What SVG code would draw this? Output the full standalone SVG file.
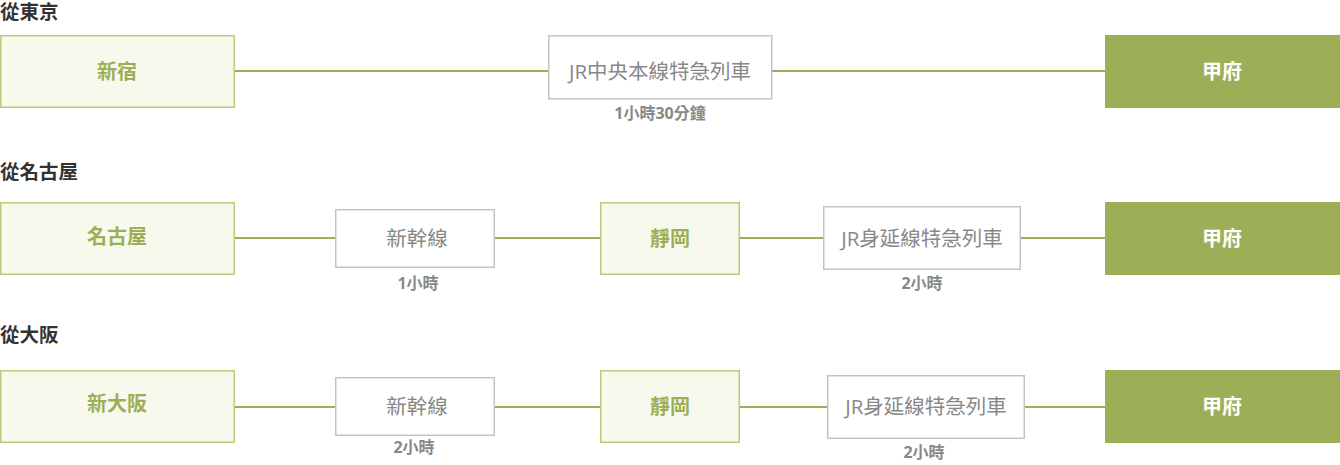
<svg xmlns="http://www.w3.org/2000/svg" width="1340" height="465" viewBox="0 0 1340 465">
<style>
.title{font-family:"Open Sans","Noto Sans CJK TC",sans-serif;font-weight:bold;font-size:19.5px;fill:#333}
.sta rect{fill:#f7f9ec;stroke:#b8cc7e;stroke-width:1.5}
.sta text{font-family:"Open Sans","Noto Sans CJK TC",sans-serif;font-weight:bold;font-size:20px;fill:#9caf57;text-anchor:middle}
.line rect{fill:#fff;stroke:#c4c4c4;stroke-width:1.5}
.line text{font-family:"Open Sans","Noto Sans CJK TC",sans-serif;font-size:20.5px;fill:#888;text-anchor:middle}
.dest rect{fill:#9caf57}
.dest text{font-family:"Open Sans","Noto Sans CJK TC",sans-serif;font-weight:bold;font-size:20px;fill:#fff;text-anchor:middle}
.dur{font-family:"Open Sans","Noto Sans CJK TC",sans-serif;font-weight:bold;font-size:16px;fill:#888;text-anchor:middle}
.conn line{stroke:#9caf57;stroke-width:2}
</style>
<g id="connectors" class="conn">
<line x1="234" y1="71" x2="548" y2="71"/>
<line x1="772" y1="71" x2="1105" y2="71"/>
<line x1="234" y1="238" x2="335" y2="238"/>
<line x1="494" y1="238" x2="600" y2="238"/>
<line x1="739" y1="238" x2="823" y2="238"/>
<line x1="1020" y1="238" x2="1105" y2="238"/>
<line x1="234" y1="407" x2="335" y2="407"/>
<line x1="494" y1="407" x2="600" y2="407"/>
<line x1="739" y1="407" x2="827" y2="407"/>
<line x1="1024" y1="407" x2="1105" y2="407"/>
</g>
<text class="title" x="0" y="19">從東京</text>
<text class="title" x="0" y="179">從名古屋</text>
<text class="title" x="0" y="342">從大阪</text>
<g id="shinjuku" class="sta"><rect x="0.75" y="35.75" width="233.5" height="71.5"/><text x="117" y="79">新宿</text></g>
<g id="chuo" class="line"><rect x="548.75" y="35.75" width="223" height="63"/><text x="660" y="79">JR中央本線特急列車</text></g>
<text class="dur" x="660" y="119">1小時30分鐘</text>
<g id="kofu1" class="dest"><rect x="1105" y="35" width="235" height="73"/><text x="1222" y="79">甲府</text></g>

<g id="nagoya" class="sta"><rect x="0.75" y="202.75" width="233.5" height="71.5"/><text x="117" y="244">名古屋</text></g>
<g id="shinkansen1" class="line"><rect x="335.75" y="209.75" width="158.5" height="57.5"/><text x="417" y="246">新幹線</text></g>
<text class="dur" x="418" y="289">1小時</text>
<g id="shizuoka1" class="sta"><rect x="600.75" y="202.75" width="138.5" height="71.5"/><text x="670" y="246">靜岡</text></g>
<g id="minobu1" class="line"><rect x="823.75" y="206.75" width="196.5" height="62.5"/><text x="922" y="246">JR身延線特急列車</text></g>
<text class="dur" x="922" y="289">2小時</text>
<g id="kofu2" class="dest"><rect x="1105" y="202" width="235" height="73"/><text x="1222" y="246">甲府</text></g>

<g id="shinosaka" class="sta"><rect x="0.75" y="370.75" width="233.5" height="71.5"/><text x="117" y="411">新大阪</text></g>
<g id="shinkansen2" class="line"><rect x="335.75" y="377.75" width="158.5" height="57.5"/><text x="417" y="414">新幹線</text></g>
<text class="dur" x="414" y="453">2小時</text>
<g id="shizuoka2" class="sta"><rect x="600.75" y="370.75" width="138.5" height="71.5"/><text x="670" y="414">靜岡</text></g>
<g id="minobu2" class="line"><rect x="827.75" y="375.75" width="196.5" height="62.5"/><text x="926" y="414">JR身延線特急列車</text></g>
<text class="dur" x="924" y="458">2小時</text>
<g id="kofu3" class="dest"><rect x="1105" y="370" width="235" height="73"/><text x="1222" y="414">甲府</text></g>
</svg>
